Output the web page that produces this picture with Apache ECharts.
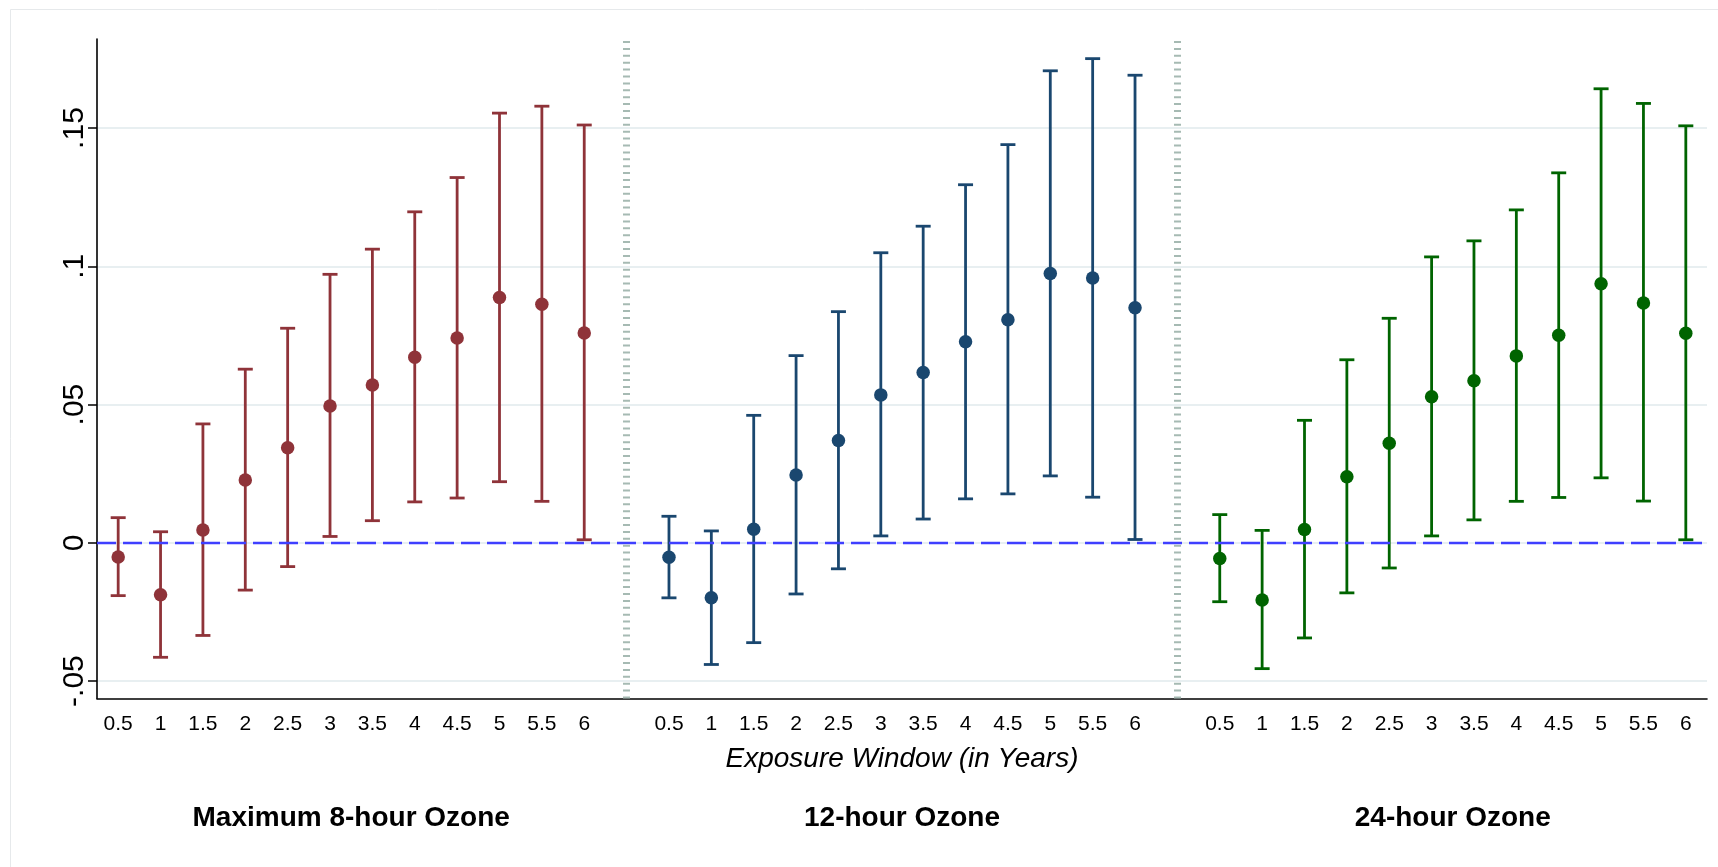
<!DOCTYPE html>
<html>
<head>
<meta charset="utf-8">
<title>Exposure Window</title>
<script src="https://cdn.jsdelivr.net/npm/echarts@6/dist/echarts.min.js"></script>
<style>
	html, body { margin: 0; padding: 0; background: #fff; }
	#main { width: 1718px; height: 867px; }
</style>
</head>
<body>
<div id="main"></div>
<script>
// x tick labels (exposure window in years) and panel names
const windows = ["0.5", "1", "1.5", "2", "2.5", "3", "3.5", "4", "4.5", "5", "5.5", "6"];
const panelNames = ["Maximum 8-hour Ozone", "12-hour Ozone", "24-hour Ozone"];
const yTicks = [-0.05, 0, 0.05, 0.1, 0.15];
const yTickLabels = ["-.05", "0", ".05", ".1", ".15"];

// Maximum 8-hour ozone
const max8Est = [-0.0051, -0.0188, 0.0046, 0.0227, 0.0344, 0.0495, 0.0571, 0.0671, 0.0741, 0.0887, 0.0863, 0.0759];
const max8Lo = [-0.0191, -0.0414, -0.0335, -0.0171, -0.0086, 0.0023, 0.008, 0.0148, 0.0162, 0.0221, 0.015, 0.0011];
const max8Hi = [0.0091, 0.004, 0.043, 0.0628, 0.0776, 0.0971, 0.1062, 0.1197, 0.1321, 0.1554, 0.1579, 0.1511];
// 12-hour ozone
const h12Est = [-0.0052, -0.0199, 0.0049, 0.0245, 0.037, 0.0535, 0.0616, 0.0727, 0.0807, 0.0974, 0.0958, 0.085];
const h12Lo = [-0.0199, -0.044, -0.0361, -0.0185, -0.0094, 0.0025, 0.0086, 0.0159, 0.0177, 0.0242, 0.0165, 0.0012];
const h12Hi = [0.0096, 0.0043, 0.0461, 0.0677, 0.0836, 0.1049, 0.1145, 0.1295, 0.144, 0.1707, 0.1751, 0.1691];
// 24-hour ozone
const h24Est = [-0.0057, -0.0207, 0.0048, 0.0239, 0.036, 0.0528, 0.0586, 0.0676, 0.0751, 0.0937, 0.0867, 0.0758];
const h24Lo = [-0.0213, -0.0455, -0.0344, -0.0181, -0.0091, 0.0025, 0.0083, 0.015, 0.0164, 0.0235, 0.0151, 0.0011];
const h24Hi = [0.0102, 0.0045, 0.0443, 0.0662, 0.0812, 0.1034, 0.1092, 0.1204, 0.1338, 0.1642, 0.1589, 0.1508];

const panels = [
	{ est: max8Est, lo: max8Lo, hi: max8Hi, color: "#8f3339" },
	{ est: h12Est, lo: h12Lo, hi: h12Hi, color: "#1a476f" },
	{ est: h24Est, lo: h24Lo, hi: h24Hi, color: "#006400" },
];

const FONT = "'Liberation Sans', Arial, Helvetica, sans-serif";
const step = windows.length + 1; // one empty slot between panels

// x position of each point: panels laid out side by side on one value axis
const xPos = (p, i) => p * step + i + 1;
const tickPositions = [];
const panelCenters = [];
panels.forEach((_, p) => {
	windows.forEach((_, i) => tickPositions.push(xPos(p, i)));
	panelCenters.push((xPos(p, 0) + xPos(p, windows.length - 1)) / 2);
});
const dividers = [];
for (let p = 1; p < panels.length; p++) dividers.push(p * step);

const series = [];
panels.forEach((panel, p) => {
	const barData = panel.est.map((v, i) => [xPos(p, i), panel.lo[i], panel.hi[i]]);
	const ptData = panel.est.map((v, i) => [xPos(p, i), v]);
	series.push({
		type: "custom",
		xAxisIndex: 0,
		silent: true,
		z: 3,
		renderItem: (params, api) => {
			const top = api.coord([api.value(0), api.value(2)]);
			const bot = api.coord([api.value(0), api.value(1)]);
			const hw = 7.5;
			const st = { stroke: panel.color, lineWidth: 2.8 };
			return {
				type: "group",
				children: [
					{ type: "line", shape: { x1: top[0], y1: top[1], x2: bot[0], y2: bot[1] }, style: st },
					{ type: "line", shape: { x1: top[0] - hw, y1: top[1], x2: top[0] + hw, y2: top[1] }, style: st },
					{ type: "line", shape: { x1: bot[0] - hw, y1: bot[1], x2: bot[0] + hw, y2: bot[1] }, style: st },
				],
			};
		},
		data: barData,
	});
	series.push({
		type: "scatter",
		xAxisIndex: 0,
		silent: true,
		z: 4,
		symbol: "circle",
		symbolSize: 13.5,
		itemStyle: { color: panel.color, opacity: 1 },
		data: ptData,
	});
});

// reference lines: dashed zero line and dotted panel dividers
series.push({
	type: "line",
	xAxisIndex: 0,
	data: [],
	silent: true,
	z: 2,
	markLine: {
		silent: true,
		symbol: "none",
		label: { show: false },
		animation: false,
		lineStyle: { opacity: 1 },
		data: [{ yAxis: 0, lineStyle: { color: "#3f3fff", width: 2.4, type: [19, 7], opacity: 1 } }].concat(
			dividers.map((d) => ({ xAxis: d, lineStyle: { color: "#a6bab3", width: 7, type: [2, 4.9], opacity: 1 } }))
		),
	},
});

const chart = echarts.init(document.getElementById("main"));
chart.setOption({
	animation: false,
	backgroundColor: "#fff",
	textStyle: { fontFamily: FONT },
	grid: { left: 97, right: 11, top: 39, bottom: 168.5, outerBoundsMode: "none" },
	graphic: [
		{
			type: "rect",
			shape: { x: 10.5, y: 9.5, width: 1740, height: 900 },
			style: { fill: null, stroke: "#e6e9eb", lineWidth: 1 },
			silent: true,
		},
	],
	xAxis: [
		{
			type: "value",
			min: 0.5,
			max: 38.5,
			axisLine: { show: true, onZero: false, lineStyle: { color: "#000", width: 1.6 } },
			axisTick: { show: false },
			splitLine: { show: false },
			axisLabel: {
				customValues: tickPositions,
				formatter: (v) => windows[(Math.round(v) - 1) % step],
				color: "#000",
				fontSize: 21,
				margin: 15,
				fontFamily: FONT,
			},
			name: "Exposure Window (in Years)",
			nameLocation: "middle",
			nameGap: 47,
			nameTextStyle: { color: "#000", fontSize: 28, fontStyle: "italic", fontFamily: FONT },
		},
		{
			type: "value",
			min: 0.5,
			max: 38.5,
			position: "bottom",
			axisLine: { show: false, onZero: false },
			axisTick: { show: false },
			splitLine: { show: false },
			axisLabel: {
				customValues: panelCenters,
				formatter: (v) => panelNames[panelCenters.indexOf(v)],
				color: "#000",
				fontSize: 28,
				fontWeight: "bold",
				margin: 106,
				fontFamily: FONT,
			},
		},
	],
	yAxis: {
		type: "value",
		min: -0.0563,
		max: 0.1822,
		axisLine: { show: true, onZero: false, lineStyle: { color: "#000", width: 1.6 } },
		axisTick: { show: true, customValues: yTicks, length: 9, lineStyle: { color: "#000", width: 1.5 } },
		splitLine: { show: true, lineStyle: { color: "#e8eff1", width: 2 } },
		axisLabel: {
			customValues: yTicks,
			formatter: (v) => yTickLabels[yTicks.indexOf(v)],
			rotate: 90,
			color: "#000",
			fontSize: 30,
			margin: 7,
			fontFamily: FONT,
		},
	},
	series: series,
});
</script>
</body>
</html>
